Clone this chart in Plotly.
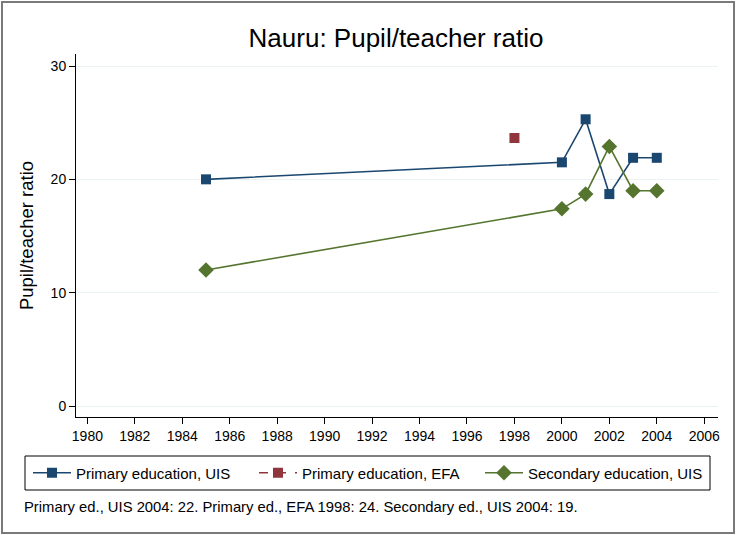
import plotly.graph_objects as go

years_primary_uis = [1985, 2000, 2001, 2002, 2003, 2004]
primary_uis = [20.0, 21.5, 25.3, 18.7, 21.9, 21.9]
years_primary_efa = [1998]
primary_efa = [23.65]
years_secondary_uis = [1985, 2000, 2001, 2002, 2003, 2004]
secondary_uis = [12.0, 17.4, 18.7, 22.9, 19.0, 19.0]

x_ticks = list(range(1980, 2007, 2))
y_ticks = [0, 10, 20, 30]

title = "Nauru: Pupil/teacher ratio"
y_title = "Pupil/teacher ratio"
note = "Primary ed., UIS 2004: 22. Primary ed., EFA 1998: 24. Secondary ed., UIS 2004: 19."

BLUE = "#1a476f"
RED = "#90353b"
GREEN = "#55752f"
FONT = "Liberation Sans, Arial, sans-serif"

fig = go.Figure()
fig.add_trace(go.Scatter(x=years_primary_uis, y=primary_uis, mode="lines+markers",
                         name="Primary education, UIS",
                         line=dict(color=BLUE, width=1.6),
                         marker=dict(symbol="square", size=10, color=BLUE)))
fig.add_trace(go.Scatter(x=years_primary_efa, y=primary_efa, mode="lines+markers",
                         name="Primary education, EFA",
                         line=dict(color=RED, width=1.6, dash="dash"),
                         marker=dict(symbol="square", size=10, color=RED)))
fig.add_trace(go.Scatter(x=years_secondary_uis, y=secondary_uis, mode="lines+markers",
                         name="Secondary education, UIS",
                         line=dict(color=GREEN, width=1.6),
                         marker=dict(symbol="diamond", size=12, color=GREEN)))

L, R, T, B = 76, 18, 54, 118
W, H = 736, 535
pw, ph = W - L - R, H - T - B

def px(x):
    return (x - L) / pw

def py(y):
    return (H - B - y) / ph

fig.update_layout(
    width=W, height=H,
    margin=dict(l=L, r=R, t=T, b=B),
    paper_bgcolor="white", plot_bgcolor="white",
    font=dict(family=FONT, color="black", size=14),
    title=dict(text=title, xref="paper", x=px(396), xanchor="center",
               yref="container", y=1 - 38 / H, yanchor="middle",
               font=dict(size=26, family=FONT, color="black")),
    showlegend=True,
    legend=dict(orientation="h", x=px(28), y=py(473), xanchor="left", yanchor="middle",
                bgcolor="rgba(0,0,0,0)", borderwidth=0, entrywidth=173, entrywidthmode="pixels",
                itemwidth=38, font=dict(size=15, family=FONT, color="black"),
                traceorder="normal"),
    xaxis=dict(range=[1979.52, 2006.58], tickvals=x_ticks, ticks="outside", ticklen=6,
               tickcolor="black", showline=True, linecolor="black", linewidth=1,
               showgrid=False, zeroline=False, tickfont=dict(size=14), mirror=False),
    yaxis=dict(range=[-0.97, 31.06], tickvals=y_ticks, ticks="outside", ticklen=6,
               tickcolor="black", showline=True, linecolor="black", linewidth=1,
               showgrid=True, gridcolor="#eaf2f3", gridwidth=1, zeroline=False,
               tickfont=dict(size=14),
               title=dict(text=y_title, font=dict(size=18.5, family=FONT), standoff=12)),
    shapes=[
        dict(type="rect", xref="paper", yref="paper", x0=px(2), x1=px(734), y0=py(533), y1=py(2),
             line=dict(color="#7a7a7a", width=2), fillcolor="rgba(0,0,0,0)", layer="below"),
        dict(type="rect", xref="paper", yref="paper", x0=px(25), x1=px(710), y0=py(490), y1=py(456),
             line=dict(color="black", width=1), fillcolor="rgba(0,0,0,0)"),
    ],
    annotations=[
        dict(text=note, xref="paper", yref="paper", x=px(22), y=py(507), xanchor="left",
             yanchor="middle", showarrow=False, font=dict(size=14.8, family=FONT, color="black")),
    ],
)

fig.write_html("out.html", config={"displayModeBar": False},
               post_script="document.body.style.margin='0';")
